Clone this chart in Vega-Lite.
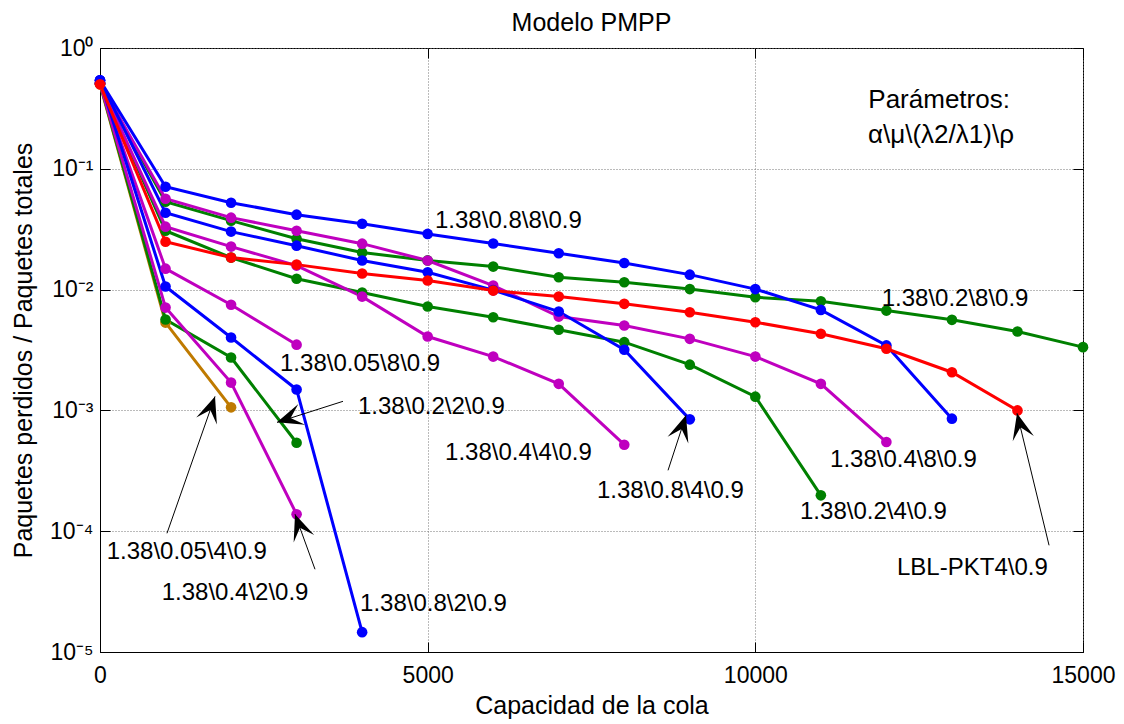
{
  "$schema": "https://vega.github.io/schema/vega-lite/v6.json",
  "autosize": {"type": "none"},
  "padding": {"left": 100, "top": 48, "right": 41, "bottom": 72},
  "width": 983,
  "height": 604,
  "background": "white",
  "config": {
    "font": "Liberation Sans",
    "view": {"stroke": "black", "strokeWidth": 1},
    "axis": {
      "domainColor": "black",
      "tickColor": "black",
      "labelColor": "black",
      "titleColor": "black",
      "labelFont": "Liberation Sans",
      "titleFont": "Liberation Sans",
      "titleFontWeight": "normal"
    }
  },
  "title": {
    "text": "Modelo PMPP",
    "font": "Liberation Sans",
    "fontSize": 25,
    "fontWeight": "normal",
    "color": "black",
    "frame": "group",
    "anchor": "middle",
    "baseline": "alphabetic",
    "offset": 0,
    "dy": 19
  },
  "datasets": {
    "curves": [
      {"s": "1.38\\0.05\\4\\0.9", "x": 0, "y": 0.5},
      {"s": "1.38\\0.05\\4\\0.9", "x": 1000, "y": 0.00533},
      {"s": "1.38\\0.05\\4\\0.9", "x": 2000, "y": 0.00106},

      {"s": "1.38\\0.05\\8\\0.9", "x": 0, "y": 0.51},
      {"s": "1.38\\0.05\\8\\0.9", "x": 1000, "y": 0.0149},
      {"s": "1.38\\0.05\\8\\0.9", "x": 2000, "y": 0.0075},
      {"s": "1.38\\0.05\\8\\0.9", "x": 3000, "y": 0.0035},

      {"s": "1.38\\0.2\\2\\0.9", "x": 0, "y": 0.51},
      {"s": "1.38\\0.2\\2\\0.9", "x": 1000, "y": 0.00565},
      {"s": "1.38\\0.2\\2\\0.9", "x": 2000, "y": 0.00274},
      {"s": "1.38\\0.2\\2\\0.9", "x": 3000, "y": 0.00054},

      {"s": "1.38\\0.2\\4\\0.9", "x": 0, "y": 0.51},
      {"s": "1.38\\0.2\\4\\0.9", "x": 1000, "y": 0.0307},
      {"s": "1.38\\0.2\\4\\0.9", "x": 2000, "y": 0.0184},
      {"s": "1.38\\0.2\\4\\0.9", "x": 3000, "y": 0.0123},
      {"s": "1.38\\0.2\\4\\0.9", "x": 4000, "y": 0.00945},
      {"s": "1.38\\0.2\\4\\0.9", "x": 5000, "y": 0.00724},
      {"s": "1.38\\0.2\\4\\0.9", "x": 6000, "y": 0.0059},
      {"s": "1.38\\0.2\\4\\0.9", "x": 7000, "y": 0.00465},
      {"s": "1.38\\0.2\\4\\0.9", "x": 8000, "y": 0.00367},
      {"s": "1.38\\0.2\\4\\0.9", "x": 9000, "y": 0.00239},
      {"s": "1.38\\0.2\\4\\0.9", "x": 10000, "y": 0.0013},
      {"s": "1.38\\0.2\\4\\0.9", "x": 11000, "y": 0.000198},

      {"s": "1.38\\0.2\\8\\0.9", "x": 0, "y": 0.51},
      {"s": "1.38\\0.2\\8\\0.9", "x": 1000, "y": 0.0534},
      {"s": "1.38\\0.2\\8\\0.9", "x": 2000, "y": 0.0372},
      {"s": "1.38\\0.2\\8\\0.9", "x": 3000, "y": 0.0264},
      {"s": "1.38\\0.2\\8\\0.9", "x": 4000, "y": 0.0203},
      {"s": "1.38\\0.2\\8\\0.9", "x": 5000, "y": 0.01745},
      {"s": "1.38\\0.2\\8\\0.9", "x": 6000, "y": 0.0155},
      {"s": "1.38\\0.2\\8\\0.9", "x": 7000, "y": 0.01264},
      {"s": "1.38\\0.2\\8\\0.9", "x": 8000, "y": 0.0115},
      {"s": "1.38\\0.2\\8\\0.9", "x": 9000, "y": 0.0101},
      {"s": "1.38\\0.2\\8\\0.9", "x": 10000, "y": 0.00864},
      {"s": "1.38\\0.2\\8\\0.9", "x": 11000, "y": 0.008},
      {"s": "1.38\\0.2\\8\\0.9", "x": 12000, "y": 0.0067},
      {"s": "1.38\\0.2\\8\\0.9", "x": 13000, "y": 0.00562},
      {"s": "1.38\\0.2\\8\\0.9", "x": 14000, "y": 0.0045},
      {"s": "1.38\\0.2\\8\\0.9", "x": 15000, "y": 0.00334},

      {"s": "1.38\\0.4\\2\\0.9", "x": 0, "y": 0.51},
      {"s": "1.38\\0.4\\2\\0.9", "x": 1000, "y": 0.0071},
      {"s": "1.38\\0.4\\2\\0.9", "x": 2000, "y": 0.0017},
      {"s": "1.38\\0.4\\2\\0.9", "x": 3000, "y": 0.000138},

      {"s": "1.38\\0.4\\4\\0.9", "x": 0, "y": 0.51},
      {"s": "1.38\\0.4\\4\\0.9", "x": 1000, "y": 0.0332},
      {"s": "1.38\\0.4\\4\\0.9", "x": 2000, "y": 0.0227},
      {"s": "1.38\\0.4\\4\\0.9", "x": 3000, "y": 0.0158},
      {"s": "1.38\\0.4\\4\\0.9", "x": 4000, "y": 0.00875},
      {"s": "1.38\\0.4\\4\\0.9", "x": 5000, "y": 0.00409},
      {"s": "1.38\\0.4\\4\\0.9", "x": 6000, "y": 0.00279},
      {"s": "1.38\\0.4\\4\\0.9", "x": 7000, "y": 0.00166},
      {"s": "1.38\\0.4\\4\\0.9", "x": 8000, "y": 0.00052},

      {"s": "1.38\\0.4\\8\\0.9", "x": 0, "y": 0.51},
      {"s": "1.38\\0.4\\8\\0.9", "x": 1000, "y": 0.0565},
      {"s": "1.38\\0.4\\8\\0.9", "x": 2000, "y": 0.0394},
      {"s": "1.38\\0.4\\8\\0.9", "x": 3000, "y": 0.0307},
      {"s": "1.38\\0.4\\8\\0.9", "x": 4000, "y": 0.024},
      {"s": "1.38\\0.4\\8\\0.9", "x": 5000, "y": 0.0174},
      {"s": "1.38\\0.4\\8\\0.9", "x": 6000, "y": 0.0108},
      {"s": "1.38\\0.4\\8\\0.9", "x": 7000, "y": 0.00598},
      {"s": "1.38\\0.4\\8\\0.9", "x": 8000, "y": 0.00504},
      {"s": "1.38\\0.4\\8\\0.9", "x": 9000, "y": 0.00391},
      {"s": "1.38\\0.4\\8\\0.9", "x": 10000, "y": 0.00279},
      {"s": "1.38\\0.4\\8\\0.9", "x": 11000, "y": 0.00166},
      {"s": "1.38\\0.4\\8\\0.9", "x": 12000, "y": 0.000547},

      {"s": "1.38\\0.8\\2\\0.9", "x": 0, "y": 0.54},
      {"s": "1.38\\0.8\\2\\0.9", "x": 1000, "y": 0.0106},
      {"s": "1.38\\0.8\\2\\0.9", "x": 2000, "y": 0.00401},
      {"s": "1.38\\0.8\\2\\0.9", "x": 3000, "y": 0.00149},
      {"s": "1.38\\0.8\\2\\0.9", "x": 4000, "y": 0.0000146},

      {"s": "1.38\\0.8\\4\\0.9", "x": 0, "y": 0.54},
      {"s": "1.38\\0.8\\4\\0.9", "x": 1000, "y": 0.0433},
      {"s": "1.38\\0.8\\4\\0.9", "x": 2000, "y": 0.0302},
      {"s": "1.38\\0.8\\4\\0.9", "x": 3000, "y": 0.0231},
      {"s": "1.38\\0.8\\4\\0.9", "x": 4000, "y": 0.0174},
      {"s": "1.38\\0.8\\4\\0.9", "x": 5000, "y": 0.0139},
      {"s": "1.38\\0.8\\4\\0.9", "x": 6000, "y": 0.0099},
      {"s": "1.38\\0.8\\4\\0.9", "x": 7000, "y": 0.00658},
      {"s": "1.38\\0.8\\4\\0.9", "x": 8000, "y": 0.00318},
      {"s": "1.38\\0.8\\4\\0.9", "x": 9000, "y": 0.000843},

      {"s": "1.38\\0.8\\8\\0.9", "x": 0, "y": 0.54},
      {"s": "1.38\\0.8\\8\\0.9", "x": 1000, "y": 0.071},
      {"s": "1.38\\0.8\\8\\0.9", "x": 2000, "y": 0.0524},
      {"s": "1.38\\0.8\\8\\0.9", "x": 3000, "y": 0.0417},
      {"s": "1.38\\0.8\\8\\0.9", "x": 4000, "y": 0.0351},
      {"s": "1.38\\0.8\\8\\0.9", "x": 5000, "y": 0.0289},
      {"s": "1.38\\0.8\\8\\0.9", "x": 6000, "y": 0.0241},
      {"s": "1.38\\0.8\\8\\0.9", "x": 7000, "y": 0.02},
      {"s": "1.38\\0.8\\8\\0.9", "x": 8000, "y": 0.0166},
      {"s": "1.38\\0.8\\8\\0.9", "x": 9000, "y": 0.0133},
      {"s": "1.38\\0.8\\8\\0.9", "x": 10000, "y": 0.0101},
      {"s": "1.38\\0.8\\8\\0.9", "x": 11000, "y": 0.00679},
      {"s": "1.38\\0.8\\8\\0.9", "x": 12000, "y": 0.00345},
      {"s": "1.38\\0.8\\8\\0.9", "x": 13000, "y": 0.000854},

      {"s": "LBL-PKT4\\0.9", "x": 0, "y": 0.5},
      {"s": "LBL-PKT4\\0.9", "x": 1000, "y": 0.0249},
      {"s": "LBL-PKT4\\0.9", "x": 2000, "y": 0.0184},
      {"s": "LBL-PKT4\\0.9", "x": 3000, "y": 0.0161},
      {"s": "LBL-PKT4\\0.9", "x": 4000, "y": 0.0136},
      {"s": "LBL-PKT4\\0.9", "x": 5000, "y": 0.0119},
      {"s": "LBL-PKT4\\0.9", "x": 6000, "y": 0.00981},
      {"s": "LBL-PKT4\\0.9", "x": 7000, "y": 0.00875},
      {"s": "LBL-PKT4\\0.9", "x": 8000, "y": 0.00762},
      {"s": "LBL-PKT4\\0.9", "x": 9000, "y": 0.0065},
      {"s": "LBL-PKT4\\0.9", "x": 10000, "y": 0.00537},
      {"s": "LBL-PKT4\\0.9", "x": 11000, "y": 0.00431},
      {"s": "LBL-PKT4\\0.9", "x": 12000, "y": 0.00324},
      {"s": "LBL-PKT4\\0.9", "x": 13000, "y": 0.00207},
      {"s": "LBL-PKT4\\0.9", "x": 14000, "y": 0.001}
    ],
    "labels": [
      {"t": "1.38\\0.8\\8\\0.9", "x": 5112, "y": 0.037},
      {"t": "1.38\\0.2\\8\\0.9", "x": 11928, "y": 0.0083},
      {"t": "1.38\\0.05\\8\\0.9", "x": 2747, "y": 0.00244},
      {"t": "1.38\\0.2\\2\\0.9", "x": 3937, "y": 0.001066},
      {"t": "1.38\\0.4\\4\\0.9", "x": 5265, "y": 0.000441},
      {"t": "1.38\\0.8\\4\\0.9", "x": 7584, "y": 0.000214},
      {"t": "1.38\\0.4\\8\\0.9", "x": 11140, "y": 0.000386},
      {"t": "1.38\\0.2\\4\\0.9", "x": 10682, "y": 0.000143},
      {"t": "LBL-PKT4\\0.9", "x": 12162, "y": 0.0000493},
      {"t": "1.38\\0.05\\4\\0.9", "x": 102, "y": 0.0000673},
      {"t": "1.38\\0.4\\2\\0.9", "x": 941, "y": 0.0000305},
      {"t": "1.38\\0.8\\2\\0.9", "x": 3968, "y": 0.0000252}
    ],
    "params": [
      {"t": "Parámetros:", "x": 11724, "y": 0.3727},
      {"t": "α\\μ\\(λ2/λ1)\\ρ", "x": 11719, "y": 0.1888}
    ],
    "arrows": [
      {"a": "A1", "x": 1755, "y": 0.001306, "x2": 1022, "y2": 0.0000961},
      {"a": "A2", "x": 2701, "y": 0.000796, "x2": 3708, "y2": 0.001189},
      {"a": "A3", "x": 2976, "y": 0.000138, "x2": 3281, "y2": 0.0000484},
      {"a": "A4", "x": 8942, "y": 0.00091, "x2": 8668, "y2": 0.000319},
      {"a": "A5", "x": 13993, "y": 0.000946, "x2": 14482, "y2": 0.0000764}
    ]
  },
  "resolve": {"axis": {"x": "independent", "y": "independent"}},
  "layer": [
    {
      "data": {"name": "curves"},
      "mark": {"type": "line", "strokeWidth": 3},
      "encoding": {
        "x": {
          "field": "x", "type": "quantitative",
          "scale": {"domain": [0, 15000], "nice": false, "zero": false},
          "axis": {
            "title": "Capacidad de la cola",
            "titleFontSize": 25,
            "titlePadding": 6,
            "values": [0, 5000, 10000, 15000],
            "format": "d",
            "labelFontSize": 23,
            "labelPadding": 22,
            "tickSize": -10,
            "labelFlush": false,
            "grid": true,
            "gridColor": "#777777",
            "gridDash": [1, 2],
            "gridWidth": 1
          }
        },
        "y": {
          "field": "y", "type": "quantitative",
          "scale": {"type": "log", "domain": [0.00001, 1], "nice": false},
          "axis": {
            "title": "Paquetes perdidos / Paquetes totales",
            "titleFontSize": 25,
            "titlePadding": 13,
            "values": [0.00001, 0.0001, 0.001, 0.01, 0.1, 1],
            "labelExpr": "'10' + ['⁰','⁻¹','⁻²','⁻³','⁻⁴','⁻⁵'][round(-log(datum.value)/LN10)]",
            "labelFontSize": 23,
            "labelPadding": 17,
            "tickSize": -10,
            "labelFlush": false,
            "grid": true,
            "gridColor": "#777777",
            "gridDash": [1, 2],
            "gridWidth": 1
          }
        },
        "color": {
          "field": "s", "type": "nominal", "legend": null,
          "scale": {
            "domain": ["1.38\\0.05\\4\\0.9", "1.38\\0.05\\8\\0.9", "1.38\\0.2\\2\\0.9", "1.38\\0.2\\4\\0.9", "1.38\\0.2\\8\\0.9", "1.38\\0.4\\2\\0.9", "1.38\\0.4\\4\\0.9", "1.38\\0.4\\8\\0.9", "1.38\\0.8\\2\\0.9", "1.38\\0.8\\4\\0.9", "1.38\\0.8\\8\\0.9", "LBL-PKT4\\0.9"],
            "range": ["#BF7A00", "#BF00BF", "#008000", "#008000", "#008000", "#BF00BF", "#BF00BF", "#BF00BF", "#0000FF", "#0000FF", "#0000FF", "#FF0000"]
          }
        }
      }
    },
    {
      "data": {"name": "curves"},
      "mark": {"type": "point", "filled": true, "opacity": 1, "size": 113, "shape": "circle"},
      "encoding": {
        "x": {"field": "x", "type": "quantitative", "axis": null},
        "y": {"field": "y", "type": "quantitative", "axis": null},
        "color": {"field": "s", "type": "nominal", "legend": null}
      }
    },
    {
      "data": {"name": "arrows"},
      "mark": {"type": "rule", "color": "black", "strokeWidth": 1},
      "encoding": {
        "x": {"field": "x", "type": "quantitative", "axis": null},
        "y": {"field": "y", "type": "quantitative", "axis": null},
        "x2": {"field": "x2"},
        "y2": {"field": "y2"}
      }
    },
    {
      "data": {"name": "arrows"},
      "transform": [{"filter": "datum.a == 'A1'"}],
      "mark": {"type": "point", "filled": true, "opacity": 1, "color": "black", "size": 2700, "angle": 19, "shape": "M0,0L0.42,1L0,0.55L-0.42,1Z"},
      "encoding": {
        "x": {"field": "x", "type": "quantitative", "axis": null},
        "y": {"field": "y", "type": "quantitative", "axis": null}
      }
    },
    {
      "data": {"name": "arrows"},
      "transform": [{"filter": "datum.a == 'A2'"}],
      "mark": {"type": "point", "filled": true, "opacity": 1, "color": "black", "size": 2700, "angle": 252, "shape": "M0,0L0.42,1L0,0.55L-0.42,1Z"},
      "encoding": {
        "x": {"field": "x", "type": "quantitative", "axis": null},
        "y": {"field": "y", "type": "quantitative", "axis": null}
      }
    },
    {
      "data": {"name": "arrows"},
      "transform": [{"filter": "datum.a == 'A3'"}],
      "mark": {"type": "point", "filled": true, "opacity": 1, "color": "black", "size": 2700, "angle": 340, "shape": "M0,0L0.42,1L0,0.55L-0.42,1Z"},
      "encoding": {
        "x": {"field": "x", "type": "quantitative", "axis": null},
        "y": {"field": "y", "type": "quantitative", "axis": null}
      }
    },
    {
      "data": {"name": "arrows"},
      "transform": [{"filter": "datum.a == 'A4'"}],
      "mark": {"type": "point", "filled": true, "opacity": 1, "color": "black", "size": 2700, "angle": 18, "shape": "M0,0L0.42,1L0,0.55L-0.42,1Z"},
      "encoding": {
        "x": {"field": "x", "type": "quantitative", "axis": null},
        "y": {"field": "y", "type": "quantitative", "axis": null}
      }
    },
    {
      "data": {"name": "arrows"},
      "transform": [{"filter": "datum.a == 'A5'"}],
      "mark": {"type": "point", "filled": true, "opacity": 1, "color": "black", "size": 2700, "angle": 346, "shape": "M0,0L0.42,1L0,0.55L-0.42,1Z"},
      "encoding": {
        "x": {"field": "x", "type": "quantitative", "axis": null},
        "y": {"field": "y", "type": "quantitative", "axis": null}
      }
    },
    {
      "data": {"name": "params"},
      "mark": {"type": "text", "align": "left", "baseline": "middle", "fontSize": 26, "font": "Liberation Sans", "color": "black"},
      "encoding": {
        "x": {"field": "x", "type": "quantitative", "axis": null},
        "y": {"field": "y", "type": "quantitative", "axis": null},
        "text": {"field": "t"}
      }
    },
    {
      "data": {"name": "labels"},
      "mark": {"type": "text", "align": "left", "baseline": "middle", "fontSize": 24, "font": "Liberation Sans", "color": "black"},
      "encoding": {
        "x": {
          "field": "x", "type": "quantitative",
          "axis": {"orient": "top", "labels": false, "title": null, "grid": false, "domain": false, "tickSize": -10, "values": [0, 5000, 10000, 15000]}
        },
        "y": {
          "field": "y", "type": "quantitative",
          "axis": {"orient": "right", "labels": false, "title": null, "grid": false, "domain": false, "tickSize": -10, "values": [0.00001, 0.0001, 0.001, 0.01, 0.1, 1]}
        },
        "text": {"field": "t"}
      }
    }
  ]
}
